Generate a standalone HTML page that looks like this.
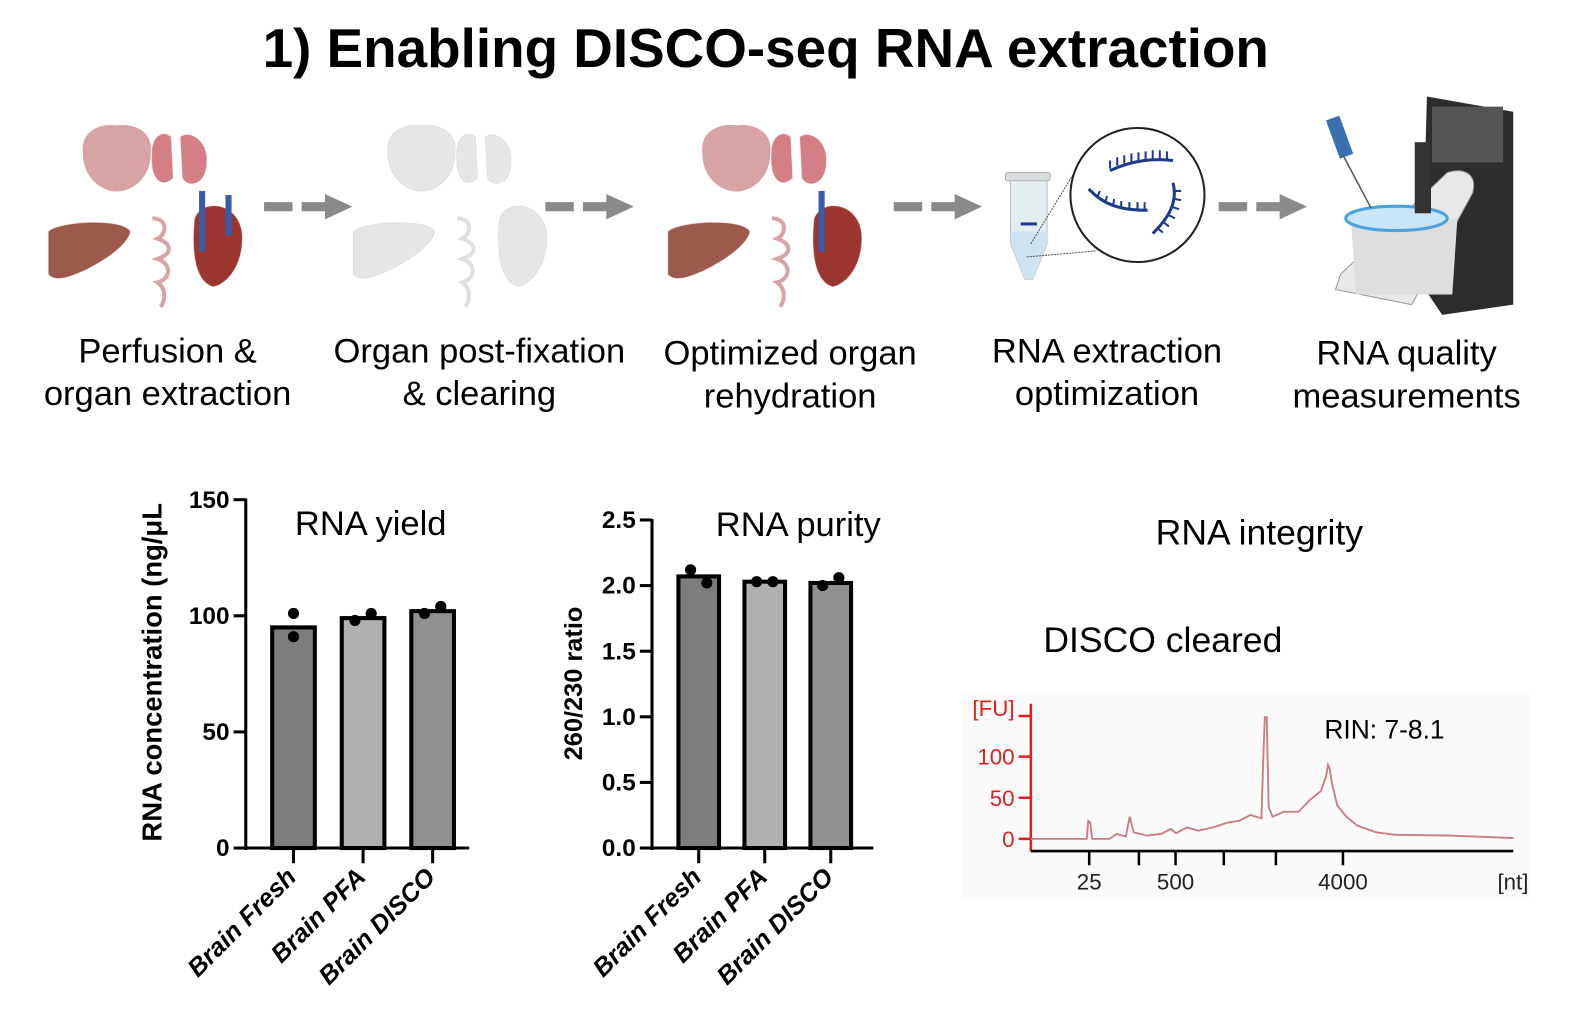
<!DOCTYPE html>
<html><head><meta charset="utf-8">
<style>
html,body{margin:0;padding:0;background:#fff;}
body{width:1594px;height:1034px;overflow:hidden;font-family:"Liberation Sans",sans-serif;}
svg{display:block}
</style></head>
<body>
<svg id="fig" width="1594" height="1034" viewBox="0 0 1594 1034" xmlns="http://www.w3.org/2000/svg" font-family="Liberation Sans, sans-serif">
<g transform="scale(1.0156)">
<text x="754" y="66" text-anchor="middle" font-size="54" font-weight="bold">1) Enabling DISCO-seq RNA extraction</text>

<defs>
<g id="organs">
 <path d="M82,150 C80,128 100,122 115,124 C130,122 150,128 148,150 C148,175 130,188 115,188 C100,188 82,175 82,150Z"/>
 <path d="M150,150 C150,135 160,128 168,135 L170,175 C160,185 148,178 150,150Z M178,135 C188,128 205,140 203,160 C203,182 185,185 180,175Z"/>
 <path d="M48,228 C60,218 120,215 128,228 C126,240 105,255 85,265 C70,272 55,278 48,270Z"/>
 <path d="M150,215 C165,215 165,230 155,235 C170,240 170,250 155,255 C170,260 168,275 155,278 C165,285 162,298 158,302" fill="none" stroke-width="4"/>
 <path d="M192,215 C200,195 235,200 238,230 C240,262 222,280 210,282 C195,278 188,255 192,215Z"/>
</g>
</defs>
<g>
 <use href="#organs" fill="#d9a3a6" stroke="#d9a3a6"/>
 <path d="M150,150 C150,135 160,128 168,135 L170,175 C160,185 148,178 150,150Z M178,135 C188,128 205,140 203,160 C203,182 185,185 180,175Z" fill="#d47f86"/>
 <path d="M48,228 C60,218 120,215 128,228 C126,240 105,255 85,265 C70,272 55,278 48,270Z" fill="#9c5a4c"/>
 <path d="M192,215 C200,195 235,200 238,230 C240,262 222,280 210,282 C195,278 188,255 192,215Z" fill="#9b3530"/>
 <rect x="196" y="188" width="6" height="60" fill="#3a5ba8"/><rect x="222" y="192" width="6" height="40" fill="#3a5ba8"/>
</g>
<g transform="translate(300,0)">
 <use href="#organs" fill="#e6e6e6" stroke="#e0e0e0"/>
</g>
<g transform="translate(610,0)">
 <use href="#organs" fill="#d9a3a6" stroke="#d9a3a6"/>
 <path d="M150,150 C150,135 160,128 168,135 L170,175 C160,185 148,178 150,150Z M178,135 C188,128 205,140 203,160 C203,182 185,185 180,175Z" fill="#d47f86"/>
 <path d="M48,228 C60,218 120,215 128,228 C126,240 105,255 85,265 C70,272 55,278 48,270Z" fill="#9c5a4c"/>
 <path d="M192,215 C200,195 235,200 238,230 C240,262 222,280 210,282 C195,278 188,255 192,215Z" fill="#9b3530"/>
 <rect x="196" y="188" width="6" height="60" fill="#3a5ba8"/>
</g>

<g fill="#8a8a8a">
 <rect x="260" y="199" width="28" height="9"/><rect x="297" y="199" width="25" height="9"/><polygon points="320,191 347,203.5 320,216"/>
 <rect x="537" y="199" width="28" height="9"/><rect x="574" y="199" width="25" height="9"/><polygon points="597,191 624,203.5 597,216"/>
 <rect x="880" y="199" width="28" height="9"/><rect x="917" y="199" width="25" height="9"/><polygon points="940,191 967,203.5 940,216"/>
 <rect x="1200" y="199" width="28" height="9"/><rect x="1237" y="199" width="25" height="9"/><polygon points="1260,191 1287,203.5 1260,216"/>
</g>

<g>
 <rect x="990" y="170" width="44" height="8" rx="2" fill="#d8dde0" stroke="#aaa"/>
 <path d="M995,178 L1031,178 L1031,240 L1017,275 L1009,275 L995,240Z" fill="#e3ecef" stroke="#bbb"/>
 <path d="M995,228 L1031,228 L1031,240 L1017,275 L1009,275 L995,240Z" fill="#cfe2f0"/>
 <rect x="1005" y="219" width="16" height="3" fill="#1e3a8a"/>
 <line x1="1011" y1="253" x2="1080" y2="247" stroke="#555" stroke-dasharray="2,1"/>
 <line x1="1015" y1="240" x2="1070" y2="150" stroke="#555" stroke-dasharray="2,1"/>
</g>
<g>
 <circle cx="1120" cy="192" r="66" fill="#fff" stroke="#222" stroke-width="2"/>
 <path d="M1093,168 C1110,160 1130,155 1155,158" fill="none" stroke="#1e3a8a" stroke-width="3"/>
 <path d="M1093,166 l0,-8 M1100,163 l0,-8 M1107,161 l0,-8 M1114,159 l0,-8 M1121,158 l0,-8 M1128,157 l0,-8 M1135,156 l0,-8 M1142,156 l0,-8 M1149,157 l0,-8" stroke="#1e3a8a" stroke-width="2"/>
 <path d="M1072,186 C1085,200 1100,207 1130,207" fill="none" stroke="#1e3a8a" stroke-width="3"/>
 <path d="M1080,195 l3,-7 M1088,200 l2,-7 M1096,203 l1,-7 M1104,205 l0,-7 M1112,206 l0,-7 M1120,206 l0,-7 M1127,206 l0,-7" stroke="#1e3a8a" stroke-width="2"/>
 <path d="M1155,180 C1160,200 1150,215 1135,230" fill="none" stroke="#1e3a8a" stroke-width="3"/>
 <path d="M1157,188 l6,0 M1157,196 l6,1 M1155,204 l6,2 M1151,212 l6,3 M1146,219 l5,4 M1140,225 l5,4" stroke="#1e3a8a" stroke-width="2"/>
</g>
<g>
 <polygon points="1405,95 1490,110 1490,300 1420,310 1400,280" fill="#2d2d2d"/>
 <rect x="1410" y="105" width="70" height="55" fill="#555"/>
 <path d="M1320,270 L1425,170 C1440,165 1455,170 1450,190 L1390,300 L1315,285Z" fill="#e8e8e8" stroke="#999"/>
 <path d="M1330,215 L1435,215 L1430,290 L1335,290Z" fill="#dedede"/>
 <ellipse cx="1375" cy="215" rx="50" ry="12" fill="#c8e6f7" stroke="#4aa3df" stroke-width="3"/>
 <rect x="1393" y="140" width="16" height="70" fill="#333"/>
 <rect x="1312" y="115" width="14" height="40" fill="#3a6fb0" transform="rotate(-20 1319 135)"/>
 <line x1="1322" y1="152" x2="1350" y2="205" stroke="#555" stroke-width="1.5"/>
</g>

<g font-size="34" text-anchor="middle" fill="#000">
 <text x="165" y="357">Perfusion &amp;</text>
 <text x="165" y="399">organ extraction</text>
 <text x="472" y="357">Organ post-fixation</text>
 <text x="472" y="399">&amp; clearing</text>
 <text x="778" y="359">Optimized organ</text>
 <text x="778" y="401">rehydration</text>
 <text x="1090" y="357">RNA extraction</text>
 <text x="1090" y="399">optimization</text>
 <text x="1385" y="359">RNA quality</text>
 <text x="1385" y="401">measurements</text>
</g>

<g id="chart1"></g>
<g id="chart2"></g>

<text x="1240" y="536" text-anchor="middle" font-size="35">RNA integrity</text>
<text x="1145" y="642" text-anchor="middle" font-size="35">DISCO cleared</text>
<rect x="948" y="682" width="558" height="203" fill="#fafafa"/>
<g id="chart3"></g>
</g>
</svg>
<script>
const NS="http://www.w3.org/2000/svg";
function mk(parent,tag,attrs,text){const e=document.createElementNS(NS,tag);for(const k in attrs)e.setAttribute(k,attrs[k]);if(text!==undefined)e.textContent=text;parent.appendChild(e);return e;}

// ---- Chart 1 data
const yieldCategories=["Brain Fresh","Brain PFA","Brain DISCO"];
const yieldMeans=[95,99,102];
const yieldDots1=[101,98,101];
const yieldDots2=[91,101,104];
const yieldTicks=[0,50,100,150];
const yieldFills=["#7d7d7d","#b0b0b0","#909090"];
// ---- Chart 2 data
const purityCategories=["Brain Fresh","Brain PFA","Brain DISCO"];
const purityMeans=[2.07,2.03,2.02];
const purityDots1=[2.12,2.03,2.00];
const purityDots2=[2.02,2.03,2.06];
const purityTicks=["0.0","0.5","1.0","1.5","2.0","2.5"];
// ---- Chart 3 data (electropherogram: x in time units 0..100, y in FU)
const traceX=[0,7.4,11.6,11.9,12.3,12.7,16.3,17.8,19.7,20.5,21.3,24,27,29,30.1,32.4,34.7,37.8,40.9,43.2,45.5,47.8,48.2,48.5,48.9,49.3,50.1,52.4,55.5,57.8,60.1,61.2,61.6,62,62.4,63.5,65.4,67.7,71.6,75.4,86.9,91.5,100];
const traceY=[0,0,0,22,20,0,0,6,3,27,8,4,6,12,7,14,10,14,20,22,29,25,100,148,148,39,27,33,33,47,58,76,90,84,68,41,27,16,8,5,4,3,1];
const fuTicks=[0,50,100];
const ntTickPos=[12.1,22.4,30,40,50.8,64.7];
const ntTickLabels=["25","","500","","","4000"];

function barChart(g,o){
 const y=v=>o.y0-(v-o.vmin)/(o.vmax-o.vmin)*(o.y0-o.ytop);
 mk(g,"line",{x1:o.ax,y1:o.ytop-1,x2:o.ax,y2:o.y0+2,stroke:"#000","stroke-width":3});
 mk(g,"line",{x1:o.ax-1,y1:o.y0,x2:o.axEnd,y2:o.y0,stroke:"#000","stroke-width":3});
 o.ticks.forEach(t=>{const yy=y(+t);
  const l=mk(g,"line",{x1:o.ax-12,y1:yy,x2:o.ax,y2:yy,stroke:"#000","stroke-width":3});
  
  
  const tx=mk(g,"text",{x:o.ax-16,y:yy+8,"text-anchor":"end","font-size":24,"font-weight":"bold"},t);
  
  
 });
 o.cats.forEach((c,i)=>{const cx=o.x0+i*o.step;
  const b=mk(g,"rect",{x:cx-o.bw/2,y:y(o.means[i]),width:o.bw,height:o.y0-y(o.means[i]),fill:o.fills[i],stroke:"#000","stroke-width":4});
  
  
  [o.d1[i],o.d2[i]].forEach((v,k)=>{
   const dx=(o.d1[i]===o.d2[i])?(k===0?-8:8):(Math.abs(o.d1[i]-o.d2[i])<0.05*(o.vmax)?(k===0?-8:8):0);
   const dd=mk(g,"circle",{cx:cx+dx,cy:y(v),r:5.5,fill:"#000"});
   
   
  });
  const tk=mk(g,"line",{x1:cx,y1:o.y0,x2:cx,y2:o.y0+15,stroke:"#000","stroke-width":3});
  
  
  const lb=mk(g,"text",{x:cx+4,y:o.y0+30,"text-anchor":"end","font-size":25,"font-weight":"bold","font-style":"italic",transform:`rotate(-45 ${cx+4} ${o.y0+30})`},c);
  
  
 });
 const tt=mk(g,"text",{x:o.titleX,y:o.titleY,"text-anchor":"middle","font-size":34},o.title);
 
 
 const yl=mk(g,"text",{x:0,y:0,"text-anchor":"middle","font-size":o.ylFont,"font-weight":"bold",transform:`translate(${o.ylX},${o.ylY}) rotate(-90)`},o.ylabel);
 
 
}
barChart(document.getElementById("chart1"),{ax:242,axEnd:462,ytop:492,y0:835,vmin:0,vmax:150,ticks:yieldTicks,cats:yieldCategories,means:yieldMeans,d1:yieldDots1,d2:yieldDots2,fills:yieldFills,x0:289,step:68.5,bw:42,title:"RNA yield",titleX:365,titleY:527,ylabel:"RNA concentration (ng/\u03BCL",ylX:159,ylY:662,ylFont:27});
barChart(document.getElementById("chart2"),{ax:642,axEnd:860,ytop:512,y0:835,vmin:0,vmax:2.5,ticks:purityTicks,cats:purityCategories,means:purityMeans,d1:purityDots1,d2:purityDots2,fills:yieldFills,x0:688,step:65,bw:40,title:"RNA purity",titleX:786,titleY:528,ylabel:"260/230 ratio",ylX:573,ylY:673,ylFont:25});

(function(){
 const g=document.getElementById("chart3");
 const X0=1015,X1=1490,Y0=826,Yp=745;
 const sx=v=>X0+v/100*(X1-X0);
 const sy=v=>Y0-v/100*(Y0-Yp);
 mk(g,"line",{x1:X0,y1:693,x2:X0,y2:Y0+12,stroke:"#e02020","stroke-width":2.5});
 mk(g,"line",{x1:X0,y1:Y0+12,x2:X1,y2:Y0+12,stroke:"#000","stroke-width":2.5});
 mk(g,"line",{x1:X0-12,y1:705,x2:X0,y2:705,stroke:"#e02020","stroke-width":2.5});
 const fu=mk(g,"text",{x:X0-16,y:705,"text-anchor":"end","font-size":22,fill:"#e02020"},"[FU]");
 
 
 fuTicks.forEach(t=>{const yy=sy(t);
  mk(g,"line",{x1:X0-12,y1:yy,x2:X0,y2:yy,stroke:"#e02020","stroke-width":2.5});
  const tx=mk(g,"text",{x:X0-16,y:yy+8,"text-anchor":"end","font-size":22,fill:"#e02020"},t);
  
  
 });
 ntTickPos.forEach((p,i)=>{const xx=sx(p);
  mk(g,"line",{x1:xx,y1:Y0+12,x2:xx,y2:Y0+26,stroke:"#000","stroke-width":2.5});
  if(ntTickLabels[i]){const tx=mk(g,"text",{x:xx,y:Y0+50,"text-anchor":"middle","font-size":22,fill:"#222"},ntTickLabels[i]);
   
   }
 });
 const nt=mk(g,"text",{x:1505,y:876,"text-anchor":"end","font-size":22,fill:"#222"},"[nt]");
 
 
 const pts=traceX.map((v,i)=>sx(v)+","+sy(traceY[i])).join(" ");
 const pl=mk(g,"polyline",{points:pts,fill:"none",stroke:"#c97b80","stroke-width":1.8});
 
 
 const rin=mk(g,"text",{x:1304,y:727,"font-size":26},"RIN: 7-8.1");
 
 
})();
</script>
</body></html>
